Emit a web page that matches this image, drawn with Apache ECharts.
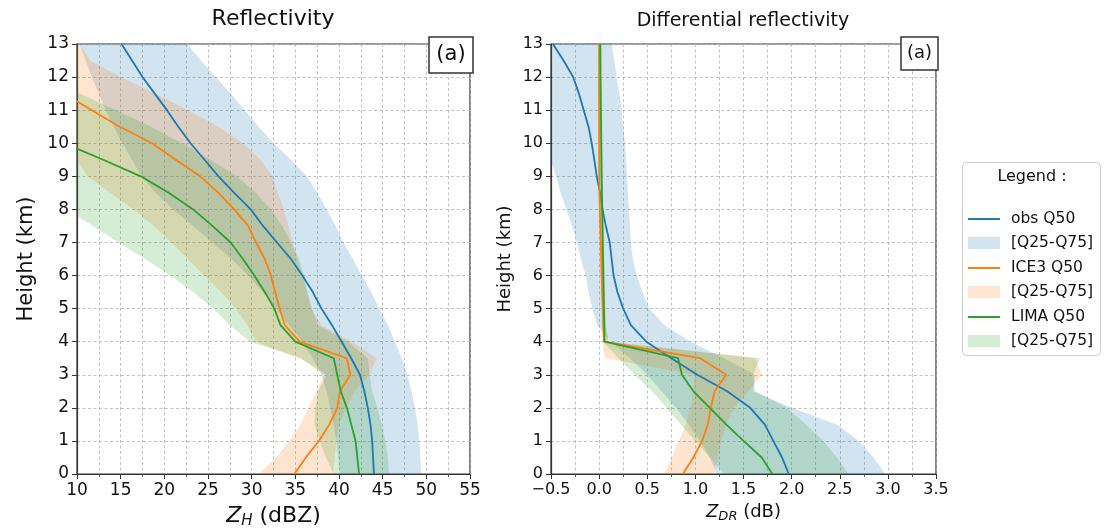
<!DOCTYPE html>
<html>
<head>
<meta charset="utf-8">
<script src="https://cdn.jsdelivr.net/npm/echarts@6/dist/echarts.min.js"></script>
<style>
  html, body { margin: 0; padding: 0; background: #ffffff; }
  #chart { width: 1107px; height: 530px; }
</style>
</head>
<body>
<div id="chart"></div>
<script>
// Heights of the profile levels (km)
const heights = [0, 0.5, 1, 1.5, 2, 2.5, 3, 3.5, 4, 4.5, 5, 5.5, 6, 6.5, 7, 7.5, 8, 8.5, 9, 9.5, 10, 10.5, 11, 11.5, 12, 12.5, 13];

// Reflectivity ZH (dBZ): median and inter-quartile range
const obsZhQ50  = [44.0, 43.9, 43.8, 43.6, 43.3, 42.9, 42.4, 41.4, 40.3, 39.2, 38.0, 37.0, 35.8, 34.5, 32.9, 31.3, 29.9, 28.0, 26.2, 24.6, 23.0, 21.6, 20.3, 18.9, 17.5, 16.3, 15.1];
const obsZhQ25  = [40.1, 39.9, 39.7, 39.4, 39.0, 38.6, 38.0, 37.0, 35.8, 34.3, 32.8, 31.3, 29.6, 27.7, 25.5, 23.3, 21.0, 19.0, 17.4, 16.3, 15.2, 14.2, 13.3, 12.5, 11.7, 11.0, 10.3];
const obsZhQ75  = [49.4, 49.3, 49.2, 49.0, 48.7, 48.3, 47.8, 47.2, 46.4, 45.6, 44.6, 43.7, 42.6, 41.6, 40.5, 39.6, 38.6, 37.5, 36.3, 34.5, 32.5, 30.8, 29.2, 27.6, 25.9, 24.2, 22.6];

const ice3ZhQ50 = [34.9, 36.2, 37.7, 38.9, 39.8, 40.1, 41.3, 40.9, 35.5, 33.8, 33.2, 32.7, 32.2, 31.5, 30.5, 29.6, 28.0, 26.2, 24.1, 21.3, 18.6, 14.9, 11.7, 8.5, null, null, null];
const ice3ZhQ25 = [30.8, 32.8, 34.3, 35.6, 36.5, 37.4, 38.3, 35.6, 30.5, 29.5, 28.2, 26.5, 24.6, 22.7, 20.8, 18.8, 16.5, 13.8, 11.2, null, null, null, null, null, null, null, null];
const ice3ZhQ75 = [39.3, 39.5, 39.7, 40.0, 40.8, 41.8, 43.5, 44.3, 41.5, 38.0, 36.8, 36.3, 35.8, 35.2, 34.7, 34.2, 33.7, 33.0, 32.4, 31.0, 29.0, 26.2, 22.7, 19.0, 15.0, 11.5, 10.3];

const limaZhQ50 = [42.3, 42.1, 41.9, 41.4, 40.9, 40.2, 39.8, 39.4, 35.0, 33.3, 32.6, 31.5, 30.3, 29.0, 27.6, 25.5, 23.3, 20.5, 17.3, 13.0, 8.5, null, null, null, null, null, null];
const limaZhQ25 = [39.4, 38.5, 37.8, 37.2, 37.3, 37.6, 38.6, 35.6, 29.8, 27.5, 25.6, 23.3, 20.7, 17.8, 14.8, 11.8, 8.8, null, null, null, null, null, null, null, null, null, null];
const limaZhQ75 = [45.7, 45.6, 45.3, 44.9, 44.4, 43.8, 43.5, 43.3, 41.0, 37.6, 36.9, 36.4, 36.0, 35.4, 34.5, 33.5, 32.2, 30.5, 28.3, 25.3, 22.0, 18.5, 14.5, 10.3, null, null, null];

// Differential reflectivity ZDR (dB): median and inter-quartile range
const obsZdrQ50  = [1.97, 1.90, 1.81, 1.72, 1.57, 1.33, 1.02, 0.75, 0.49, 0.33, 0.25, 0.19, 0.15, 0.13, 0.11, 0.07, 0.035, 0.01, -0.025, -0.05, -0.077, -0.11, -0.16, -0.21, -0.27, -0.37, -0.48];
const obsZdrQ25  = [1.22, 1.15, 1.05, 0.93, 0.80, 0.65, 0.50, 0.32, 0.12, -0.02, -0.07, -0.11, -0.14, -0.19, -0.23, -0.28, -0.34, -0.40, -0.45, null, null, null, null, null, null, null, null];
const obsZdrQ75  = [2.97, 2.85, 2.70, 2.47, 2.00, 1.60, 1.62, 1.30, 0.95, 0.68, 0.52, 0.45, 0.39, 0.35, 0.33, 0.32, 0.31, 0.30, 0.29, 0.28, 0.27, 0.25, 0.235, 0.21, 0.18, 0.16, 0.13];

const ice3ZdrQ50 = [0.87, 0.98, 1.07, 1.13, 1.16, 1.20, 1.32, 1.05, 0.05, 0.044, 0.038, 0.032, 0.027, 0.022, 0.017, 0.012, 0.008, 0.004, 0.002, 0.001, 0.001, 0.0, 0.0, 0.0, 0.0, 0.0, 0.0];
const ice3ZdrQ25 = [0.68, 0.75, 0.83, 0.90, 0.95, 0.98, 0.99, 0.06, 0.035, 0.03, 0.025, 0.02, 0.015, 0.01, 0.005, 0.0, -0.004, -0.008, -0.01, -0.011, -0.012, -0.013, -0.014, -0.014, -0.015, -0.015, -0.015];
const ice3ZdrQ75 = [1.20, 1.23, 1.27, 1.32, 1.40, 1.55, 1.69, 1.62, 0.10, 0.058, 0.052, 0.046, 0.04, 0.035, 0.03, 0.025, 0.02, 0.017, 0.014, 0.013, 0.012, 0.011, 0.01, 0.01, 0.01, 0.01, 0.01];

const limaZdrQ50 = [1.80, 1.69, 1.50, 1.32, 1.15, 0.98, 0.86, 0.82, 0.056, 0.054, 0.05, 0.047, 0.044, 0.041, 0.038, 0.035, 0.032, 0.029, 0.026, 0.024, 0.022, 0.02, 0.018, 0.016, 0.014, 0.013, 0.012];
const limaZdrQ25 = [1.30, 1.15, 1.00, 0.85, 0.70, 0.55, 0.37, 0.20, 0.04, 0.04, 0.036, 0.033, 0.03, 0.027, 0.024, 0.021, 0.018, 0.015, 0.012, 0.01, 0.008, 0.006, 0.004, 0.002, 0.0, -0.001, -0.002];
const limaZdrQ75 = [2.59, 2.47, 2.33, 2.15, 1.95, 1.62, 1.60, 1.67, 0.10, 0.07, 0.066, 0.062, 0.058, 0.055, 0.052, 0.049, 0.046, 0.043, 0.04, 0.038, 0.036, 0.034, 0.032, 0.03, 0.028, 0.027, 0.026];

// Axis ticks
const zhTicks  = [10, 15, 20, 25, 30, 35, 40, 45, 50, 55];
const zdrTicks = [-0.5, 0.0, 0.5, 1.0, 1.5, 2.0, 2.5, 3.0, 3.5];
const heightTicks = [0, 1, 2, 3, 4, 5, 6, 7, 8, 9, 10, 11, 12, 13];

const FONT = 'DejaVu Sans';
const INK = '#111111';
const BLUE = '#1f77b4', ORANGE = '#ff7f0e', GREEN = '#2ca02c';
const BAND_ALPHA = 0.2;

function rgba(hex, a) {
  const n = parseInt(hex.slice(1), 16);
  return `rgba(${(n >> 16) & 255},${(n >> 8) & 255},${n & 255},${a})`;
}

// [value, height] pairs of a median profile, skipping missing levels
function profile(values) {
  const out = [];
  values.forEach((v, i) => { if (v != null) out.push([v, heights[i]]); });
  return out;
}

function lineSeries(name, axis, values, color) {
  return {
    type: 'line', name, xAxisIndex: axis, yAxisIndex: axis,
    data: profile(values), symbol: 'none', showSymbol: false,
    lineStyle: { color, width: 1.8 }, itemStyle: { color },
    clip: true, z: 5, silent: true
  };
}

// Shaded inter-quartile band drawn as one polygon between Q25 and Q75.
// A missing Q25 lies beyond the left edge of the axis.
function bandSeries(name, axis, lo, hi, color, axisMin) {
  const rows = [];
  heights.forEach((h, i) => { if (hi[i] != null) rows.push([lo[i] == null ? axisMin : lo[i], hi[i], h]); });
  return {
    type: 'custom', name, xAxisIndex: axis, yAxisIndex: axis,
    data: rows, encode: { x: [0, 1], y: 2 }, silent: true, z: 2,
    itemStyle: { color: rgba(color, BAND_ALPHA) },
    renderItem(params, api) {
      if (params.dataIndex !== 0) return;
      const left = rows.map(r => api.coord([r[0], r[2]]));
      const right = rows.map(r => api.coord([r[1], r[2]])).reverse();
      const cs = params.coordSys;
      return {
        type: 'polygon',
        shape: { points: left.concat(right) },
        style: { fill: rgba(color, BAND_ALPHA), stroke: null },
        clipPath: { type: 'rect', shape: { x: cs.x, y: cs.y, width: cs.width, height: cs.height } }
      };
    }
  };
}

const dashed = { color: '#b3b3b3', width: 0.8, type: [3, 2.5] };
const spine = { color: '#333333', width: 1.2 };

function xAxisCfg(gridIndex, ticks, nameRich, fontSize, nameSize, subSize, gap, fmt) {
  const step = ticks[1] - ticks[0];
  return {
    type: 'value', gridIndex,
    min: ticks[0], max: ticks[ticks.length - 1], interval: step,
    axisLine: { show: true, onZero: false, lineStyle: spine },
    axisTick: { show: true, length: 5, lineStyle: { color: '#333', width: 1 } },
    minorTick: { show: true, splitNumber: 2, length: 3, lineStyle: { color: '#333', width: 0.8 } },
    splitLine: { show: true, lineStyle: dashed },
    minorSplitLine: { show: true, lineStyle: dashed },
    axisLabel: { fontSize, color: INK, fontFamily: FONT, margin: 8, formatter: fmt, hideOverlap: false, showMinLabel: true, showMaxLabel: true },
    name: nameRich, nameLocation: 'middle', nameGap: gap,
    nameTextStyle: {
      fontSize: nameSize, color: INK, fontFamily: FONT,
      rich: {
        it: { fontStyle: 'italic', fontSize: nameSize, color: INK, fontFamily: FONT },
        sub: { fontStyle: 'italic', fontSize: subSize, color: INK, fontFamily: FONT, padding: [Math.round(subSize * 0.75), 0, 0, 0] },
        t: { fontSize: nameSize, color: INK, fontFamily: FONT }
      }
    }
  };
}

function yAxisCfg(gridIndex, fontSize, nameSize, gap) {
  return {
    type: 'value', gridIndex,
    min: heightTicks[0], max: heightTicks[heightTicks.length - 1], interval: heightTicks[1] - heightTicks[0],
    axisLine: { show: true, onZero: false, lineStyle: spine },
    axisTick: { show: true, length: 5, lineStyle: { color: '#333', width: 1 } },
    splitLine: { show: true, lineStyle: dashed },
    axisLabel: { fontSize, color: INK, fontFamily: FONT, margin: 8, showMinLabel: true, showMaxLabel: true },
    name: 'Height (km)', nameLocation: 'middle', nameGap: gap, nameRotate: 90,
    nameTextStyle: { fontSize: nameSize, color: INK, fontFamily: FONT }
  };
}

function legendEntry(seriesName, label, color, cy, isLine) {
  return {
    data: [{ name: seriesName, icon: 'rect', itemStyle: { color, borderWidth: 0 } }],
    formatter: () => label,
    left: 968, top: cy - 9, padding: 0,
    itemWidth: 32, itemHeight: isLine ? 2 : 12,
    selectedMode: false,
    textStyle: { fontSize: 15.5, color: INK, fontFamily: FONT, padding: [0, 0, 0, 6] }
  };
}

function textBox(cx, cy, w, h, size) {
  return [
    { type: 'rect', z: 20, shape: { x: cx - w / 2, y: cy - h / 2, width: w, height: h },
      style: { fill: '#ffffff', stroke: '#333333', lineWidth: 1.5 } },
    { type: 'text', z: 21, x: cx, y: cy,
      style: { text: '(a)', fontSize: size, fontFamily: FONT, fill: INK, align: 'center', verticalAlign: 'middle' } }
  ];
}

const chart = echarts.init(document.getElementById('chart'), null, { renderer: 'canvas' });

chart.setOption({
  animation: false,
  backgroundColor: '#ffffff',
  grid: [
    { left: 77, top: 44, width: 393, height: 430, show: true, borderColor: '#333333', borderWidth: 1.2, backgroundColor: 'transparent', outerBoundsMode: 'none' },
    { left: 551, top: 44, width: 385, height: 430, show: true, borderColor: '#333333', borderWidth: 1.2, backgroundColor: 'transparent', outerBoundsMode: 'none' }
  ],
  xAxis: [
    xAxisCfg(0, zhTicks, '{it|Z}{sub|H}{t| (dBZ)}', 17, 22, 15, 29, v => String(v)),
    xAxisCfg(1, zdrTicks, '{it|Z}{sub|DR}{t| (dB)}', 16, 18, 13, 25, v => (v < 0 ? '\u2212' : '') + Math.abs(v).toFixed(1))
  ],
  yAxis: [
    yAxisCfg(0, 17, 21, 40),
    yAxisCfg(1, 16, 18, 37)
  ],
  legend: [
    legendEntry('obs Q50', 'obs Q50', BLUE, 220, true),
    legendEntry('obs [Q25-Q75]', '[Q25-Q75]', rgba(BLUE, BAND_ALPHA), 244, false),
    legendEntry('ICE3 Q50', 'ICE3 Q50', ORANGE, 269, true),
    legendEntry('ICE3 [Q25-Q75]', '[Q25-Q75]', rgba(ORANGE, BAND_ALPHA), 293, false),
    legendEntry('LIMA Q50', 'LIMA Q50', GREEN, 318, true),
    legendEntry('LIMA [Q25-Q75]', '[Q25-Q75]', rgba(GREEN, BAND_ALPHA), 342, false)
  ],
  graphic: [
    { type: 'text', x: 273, y: 19, style: { text: 'Reflectivity', fontSize: 22, fontFamily: FONT, fill: INK, align: 'center', verticalAlign: 'middle' } },
    { type: 'text', x: 743, y: 21, style: { text: 'Differential reflectivity', fontSize: 19, fontFamily: FONT, fill: INK, align: 'center', verticalAlign: 'middle' } },
    ...textBox(451, 55, 44, 36, 21),
    ...textBox(919.5, 53.5, 37, 33, 18),
    { type: 'rect', z: 0, shape: { x: 962.5, y: 162.5, width: 138, height: 193, r: 4 },
      style: { fill: '#ffffff', stroke: '#cccccc', lineWidth: 1 } },
    { type: 'text', z: 1, x: 1032, y: 177, style: { text: 'Legend :', fontSize: 16, fontFamily: FONT, fill: INK, align: 'center', verticalAlign: 'middle' } }
  ],
  series: [
    bandSeries('obs [Q25-Q75]', 0, obsZhQ25, obsZhQ75, BLUE, zhTicks[0]),
    bandSeries('ICE3 [Q25-Q75]', 0, ice3ZhQ25, ice3ZhQ75, ORANGE, zhTicks[0]),
    bandSeries('LIMA [Q25-Q75]', 0, limaZhQ25, limaZhQ75, GREEN, zhTicks[0]),
    lineSeries('obs Q50', 0, obsZhQ50, BLUE),
    lineSeries('ICE3 Q50', 0, ice3ZhQ50, ORANGE),
    lineSeries('LIMA Q50', 0, limaZhQ50, GREEN),

    bandSeries('obs [Q25-Q75]', 1, obsZdrQ25, obsZdrQ75, BLUE, zdrTicks[0]),
    bandSeries('ICE3 [Q25-Q75]', 1, ice3ZdrQ25, ice3ZdrQ75, ORANGE, zdrTicks[0]),
    bandSeries('LIMA [Q25-Q75]', 1, limaZdrQ25, limaZdrQ75, GREEN, zdrTicks[0]),
    lineSeries('obs Q50', 1, obsZdrQ50, BLUE),
    lineSeries('ICE3 Q50', 1, ice3ZdrQ50, ORANGE),
    lineSeries('LIMA Q50', 1, limaZdrQ50, GREEN)
  ]
});
</script>
</body>
</html>
